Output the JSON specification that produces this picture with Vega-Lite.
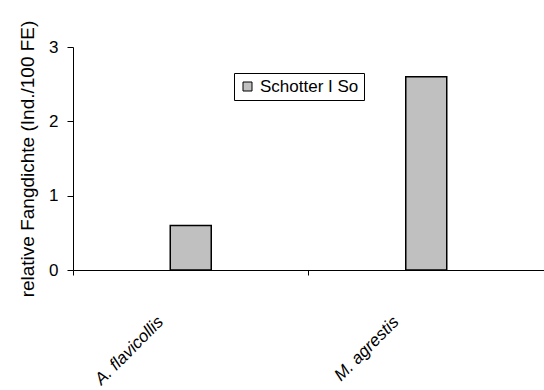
{
  "$schema": "https://vega.github.io/schema/vega-lite/v6.json",
  "width": 471,
  "height": 223,
  "autosize": {"type": "none"},
  "padding": {"left": 73, "top": 47, "right": 0, "bottom": 120},
  "background": "white",
  "config": {
    "view": {"stroke": null},
    "font": "Liberation Sans",
    "axis": {"grid": false, "domainColor": "black", "tickColor": "black", "labelColor": "black", "titleColor": "black", "domainWidth": 1, "tickWidth": 1}
  },
  "data": {
    "values": [
      {"species": "A. flavicollis", "value": 0.6, "series": "Schotter I So"},
      {"species": "M. agrestis", "value": 2.6, "series": "Schotter I So"}
    ]
  },
  "mark": {"type": "bar", "size": 41, "stroke": "black", "strokeWidth": 1.5},
  "encoding": {
    "x": {
      "field": "species",
      "type": "nominal",
      "sort": null,
      "scale": {"paddingInner": 0, "paddingOuter": 0},
      "axis": {
        "title": null,
        "bandPosition": 0,
        "labelAngle": -45,
        "labelAlign": "right",
        "labelBaseline": "middle",
        "labelOffset": -30,
        "labelPadding": 44,
        "labelFontSize": 17,
        "labelFontStyle": "italic",
        "tickSize": 5
      }
    },
    "y": {
      "field": "value",
      "type": "quantitative",
      "scale": {"domain": [0, 3]},
      "axis": {
        "title": "relative Fangdichte (Ind./100 FE)",
        "titleFontSize": 19,
        "titleFontWeight": "normal",
        "titlePadding": 11,
        "values": [0, 1, 2, 3],
        "format": "d",
        "labelFontSize": 17,
        "labelPadding": 9,
        "tickSize": 6
      }
    },
    "color": {
      "field": "series",
      "type": "nominal",
      "scale": {"range": ["#c0c0c0"]},
      "legend": {
        "title": null,
        "orient": "none",
        "legendX": 161,
        "legendY": 26,
        "symbolType": "square",
        "symbolSize": 81,
        "symbolStrokeColor": "black",
        "symbolStrokeWidth": 1,
        "symbolOpacity": 1,
        "labelFontSize": 17,
        "labelColor": "black",
        "fillColor": "white",
        "strokeColor": "black",
        "padding": 5
      }
    }
  }
}
